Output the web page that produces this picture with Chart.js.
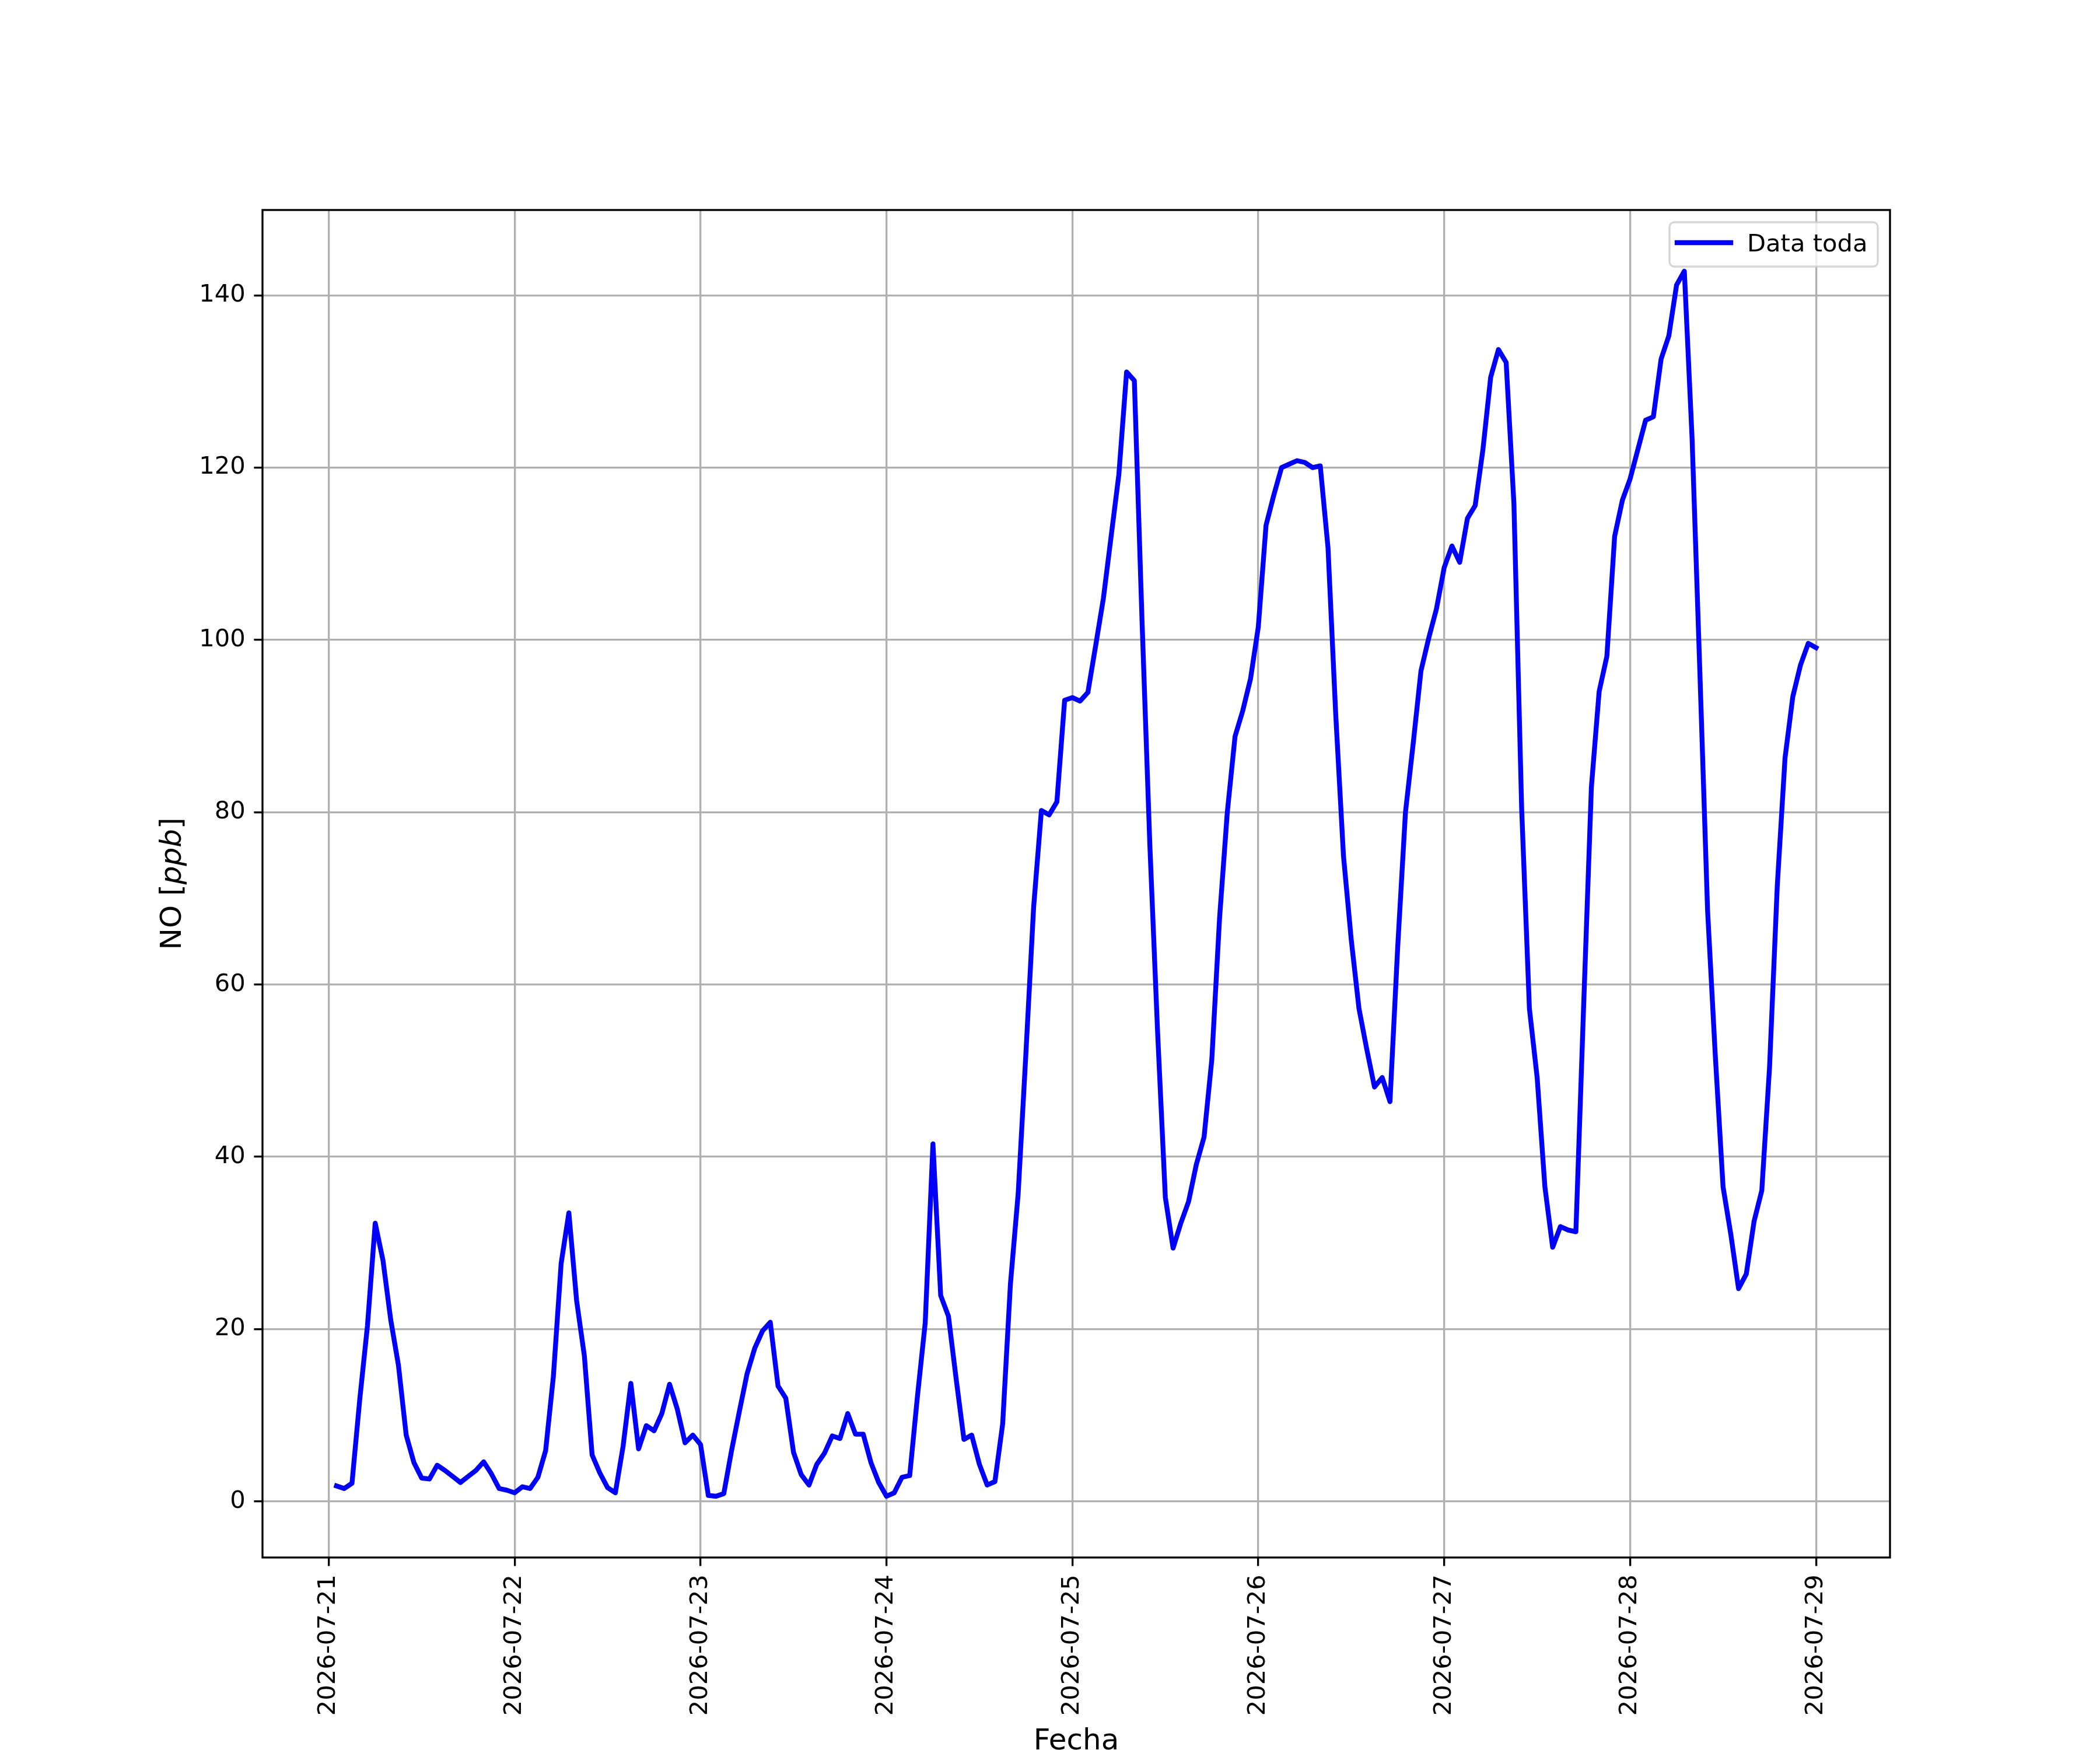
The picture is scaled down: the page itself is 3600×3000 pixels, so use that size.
<!DOCTYPE html>
<html>
<head>
<meta charset="utf-8">
<script src="https://cdn.jsdelivr.net/npm/chart.js@4.4.1/dist/chart.umd.min.js"></script>
<style>
  html, body { margin: 0; padding: 0; background: #ffffff; }
  canvas { display: block; }
</style>
</head>
<body>
<canvas id="noChart" width="3600" height="3000"></canvas>
<script>
// hourly NO values, first one at 2026-07-21 01:00
const firstHour = 1;
const noValues = [
  1.8, 1.5, 2.1, 11.8, 20.4, 32.3, 28.0, 21.1, 15.8, 7.7, 4.5, 2.7, 2.6, 4.2, 3.6, 2.9, 2.2, 2.9, 3.6, 4.6, 3.2, 1.5, 1.3, 1.0,
  1.7, 1.5, 2.8, 5.9, 14.5, 27.6, 33.5, 23.3, 16.9, 5.4, 3.3, 1.6, 1.0, 6.4, 13.7, 6.1, 8.8, 8.2, 10.2, 13.6, 10.7, 6.8, 7.7, 6.6,
  0.7, 0.6, 0.9, 5.9, 10.4, 14.8, 17.8, 19.8, 20.8, 13.4, 12.0, 5.7, 3.1, 1.9, 4.3, 5.6, 7.6, 7.3, 10.2, 7.8, 7.8, 4.5, 2.2, 0.6,
  1.0, 2.8, 3.0, 12.2, 20.7, 41.5, 23.9, 21.5, 14.2, 7.2, 7.7, 4.3, 1.9, 2.3, 9.0, 25.2, 35.7, 52.0, 69.0, 80.2, 79.7, 81.2, 93.0, 93.3,
  92.9, 93.9, 99.3, 104.8, 112.0, 119.2, 131.1, 130.1, 102.0, 76.2, 54.5, 35.3, 29.4, 32.3, 34.8, 39.1, 42.3, 51.3, 67.7, 80.0, 88.8, 91.8, 95.5, 101.5,
  113.3, 116.8, 120.0, 120.4, 120.8, 120.6, 120.0, 120.2, 110.7, 91.3, 74.9, 65.2, 57.2, 52.5, 48.1, 49.2, 46.4, 64.4, 80.0, 88.0, 96.4, 100.2, 103.6, 108.4,
  110.9, 109.0, 114.1, 115.6, 122.1, 130.5, 133.7, 132.2, 115.8, 80.4, 57.2, 49.2, 36.5, 29.5, 31.9, 31.5, 31.3, 57.5, 82.9, 94.0, 98.1, 112.0, 116.2, 118.7,
  122.1, 125.5, 125.9, 132.6, 135.3, 141.2, 142.8, 123.4, 96.4, 68.6, 51.7, 36.5, 31.0, 24.7, 26.4, 32.5, 36.1, 50.4, 71.5, 86.3, 93.4, 97.1, 99.6, 99.1
];

// x ticks: hours since 2026-07-21 00:00
const xTickHours = [0, 24, 48, 72, 96, 120, 144, 168, 192];
const xTickLabels = ["2026-07-21", "2026-07-22", "2026-07-23", "2026-07-24", "2026-07-25",
  "2026-07-26", "2026-07-27", "2026-07-28", "2026-07-29"];
const yTicks = [0, 20, 40, 60, 80, 100, 120, 140];

const seriesLabel = "Data toda";
const xTitle = "Fecha";

const points = noValues.map((v, i) => ({ x: firstHour + i, y: v }));

const PT = 300 / 72;  // figure at 300 dpi
const tickFont = { family: "DejaVu Sans", size: 10 * PT };

// top/right spines (matplotlib box)
const frame = {
  id: "frame",
  afterDatasetsDraw(chart) {
    const a = chart.chartArea;
    const ctx = chart.ctx;
    ctx.save();
    ctx.strokeStyle = "#000000";
    ctx.lineWidth = 0.8 * PT;
    ctx.strokeRect(a.left, a.top, a.right - a.left, a.bottom - a.top);
    ctx.restore();
  }
};

// y label with italic ppb
const yLabel = {
  id: "yLabel",
  afterDraw(chart) {
    const a = chart.chartArea;
    const ctx = chart.ctx;
    const size = 12 * PT;
    const parts = [
      { t: "NO [", f: size + "px 'DejaVu Sans'" },
      { t: "ppb", f: "italic " + size + "px 'DejaVu Sans'" },
      { t: "]", f: size + "px 'DejaVu Sans'" }
    ];
    ctx.save();
    let total = 0;
    parts.forEach(p => { ctx.font = p.f; p.w = ctx.measureText(p.t).width; total += p.w; });
    ctx.translate(297, (a.top + a.bottom) / 2);
    ctx.rotate(-Math.PI / 2);
    ctx.fillStyle = "#000000";
    ctx.textBaseline = "middle";
    let x = -total / 2;
    parts.forEach(p => { ctx.font = p.f; ctx.fillText(p.t, x, 0); x += p.w; });
    ctx.restore();
  }
};

// legend in the upper right corner, like matplotlib
const boxLegend = {
  id: "boxLegend",
  afterDraw(chart) {
    const a = chart.chartArea;
    const ctx = chart.ctx;
    const ds = chart.data.datasets[0];
    const w = 357, h = 76;
    const x0 = a.right - 21 - w, y0 = a.top + 21;
    ctx.save();
    ctx.beginPath();
    ctx.roundRect(x0, y0, w, h, 8);
    ctx.fillStyle = "rgba(255,255,255,0.8)";
    ctx.fill();
    ctx.strokeStyle = "rgba(204,204,204,0.8)";
    ctx.lineWidth = 0.8 * PT;
    ctx.stroke();
    ctx.beginPath();
    ctx.moveTo(x0 + 13, y0 + 35);
    ctx.lineTo(x0 + 105, y0 + 35);
    ctx.strokeStyle = ds.borderColor;
    ctx.lineWidth = ds.borderWidth;
    ctx.lineCap = "square";
    ctx.stroke();
    ctx.fillStyle = "#000000";
    ctx.font = tickFont.size + "px 'DejaVu Sans'";
    ctx.textBaseline = "alphabetic";
    ctx.fillText(ds.label, x0 + 133, y0 + 50);
    ctx.restore();
  }
};

new Chart(document.getElementById("noChart"), {
  type: "line",
  data: {
    datasets: [{
      label: seriesLabel,
      data: points,
      borderColor: "#0000ff",
      borderWidth: 2 * PT,
      pointRadius: 0,
      tension: 0,
      borderJoinStyle: "round",
      borderCapStyle: "square",
      fill: false
    }]
  },
  options: {
    responsive: false,
    devicePixelRatio: 1,
    animation: false,
    layout: { padding: { top: 360, right: 360, left: 0, bottom: 0 } },
    plugins: {
      legend: { display: false },
      tooltip: { enabled: false }
    },
    scales: {
      x: {
        type: "linear",
        min: -8.55,
        max: 201.55,
        afterFit: (s) => { s.height = 330; },
        afterBuildTicks: (s) => { s.ticks = xTickHours.map(v => ({ value: v })); },
        grid: {
          color: "#b0b0b0",
          lineWidth: 0.8 * PT,
          tickColor: "#000000",
          tickWidth: 0.8 * PT,
          tickLength: 3.5 * PT
        },
        border: { display: false },
        ticks: {
          autoSkip: false,
          minRotation: 90,
          maxRotation: 90,
          padding: 3.5 * PT,
          color: "#000000",
          font: tickFont,
          callback: (value, index) => xTickLabels[index]
        },
        title: {
          display: true,
          text: xTitle,
          color: "#000000",
          font: { family: "DejaVu Sans", size: 12 * PT, lineHeight: 0.55 },
          padding: { top: 0, bottom: 0 }
        }
      },
      y: {
        min: -6.51,
        max: 149.9,
        afterFit: (s) => { s.width = 450; },
        afterBuildTicks: (s) => { s.ticks = yTicks.map(v => ({ value: v })); },
        grid: {
          color: "#b0b0b0",
          lineWidth: 0.8 * PT,
          tickColor: "#000000",
          tickWidth: 0.8 * PT,
          tickLength: 3.5 * PT
        },
        border: { display: false },
        ticks: {
          padding: 3.5 * PT,
          color: "#000000",
          font: tickFont
        }
      }
    }
  },
  plugins: [frame, yLabel, boxLegend]
});
</script>
</body>
</html>
